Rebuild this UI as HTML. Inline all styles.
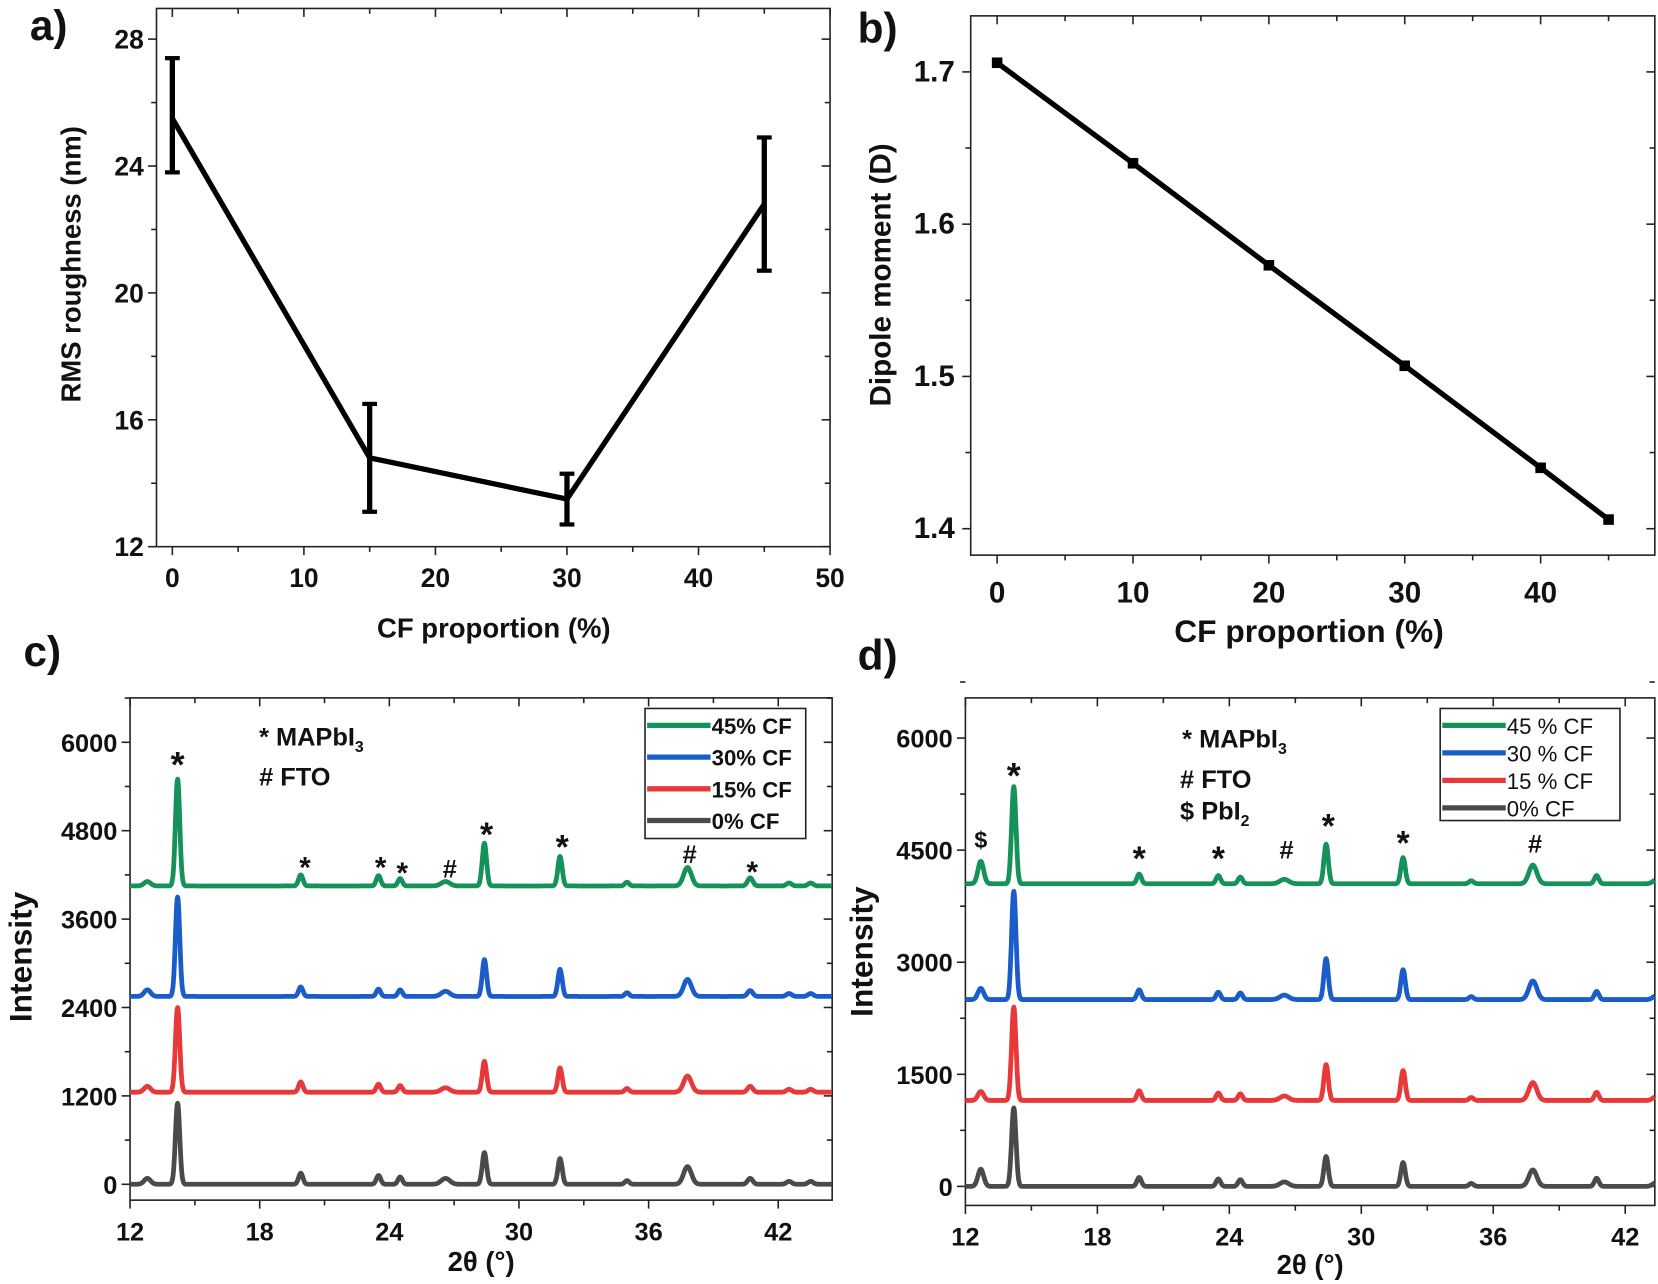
<!DOCTYPE html>
<html><head><meta charset="utf-8">
<style>
html,body{margin:0;padding:0;background:#fff;}
svg{display:block;font-family:"Liberation Sans",Arial,sans-serif;font-weight:bold;}
</style></head>
<body>
<svg id="fig" width="1658" height="1284" viewBox="0 0 1568 1214.3" xmlns="http://www.w3.org/2000/svg"></svg>
<script>
// ---- Panel a data ----
const aX = [0, 15, 30, 45];
const aY = [25.5, 14.8, 13.5, 22.8];
const aErrLo = [23.8, 13.1, 12.7, 20.7];
const aErrHi = [27.4, 16.5, 14.3, 24.9];
const aXTicks = [0, 10, 20, 30, 40, 50];
const aYTicks = [12, 16, 20, 24, 28];
// ---- Panel b data ----
const bX = [0, 10, 20, 30, 40, 45];
const bY = [1.706, 1.640, 1.573, 1.507, 1.440, 1.406];
const bXTicks = [0, 10, 20, 30, 40];
const bYTicks = [1.4, 1.5, 1.6, 1.7];
// ---- Panel c/d XRD data (peak positions, heights per series, baselines) ----
const xrdXTicks = [12, 18, 24, 30, 36, 42];
const cYTicks = [0, 1200, 2400, 3600, 4800, 6000];
const dYTicks = [0, 1500, 3000, 4500, 6000];
const seriesNames = ["0% CF", "15% CF", "30% CF", "45% CF"];
const seriesNamesD = ["0% CF", "15 % CF", "30 % CF", "45 % CF"];
const seriesColors = ["#4a4a4a", "#e8393a", "#1a5cc8", "#15915a"];
const cPeakPos = [12.8, 14.2, 19.9, 23.5, 24.5, 26.6, 28.4, 31.9, 35.0, 37.8, 40.7, 42.5, 43.5];
const cPeakW = [0.15, 0.1, 0.1, 0.1, 0.1, 0.2, 0.1, 0.1, 0.1, 0.18, 0.12, 0.12, 0.12];
const cBase = [0, 1250, 2550, 4050];
const cHeights = [
  [80, 1100, 150, 120, 100, 80, 430, 350, 50, 240, 80, 40, 40],
  [80, 1150, 140, 110, 90, 60, 420, 330, 50, 220, 80, 40, 40],
  [90, 1350, 130, 100, 90, 70, 500, 370, 50, 230, 80, 40, 40],
  [60, 1450, 150, 140, 100, 60, 580, 400, 50, 250, 110, 40, 40]
];
const dPeakPos = [12.7, 14.2, 19.9, 23.5, 24.5, 26.5, 28.4, 31.9, 35.0, 37.8, 40.7, 43.4];
const dPeakW = [0.13, 0.1, 0.1, 0.1, 0.1, 0.2, 0.1, 0.1, 0.1, 0.18, 0.1, 0.15];
const dBase = [0, 1150, 2500, 4050];
const dHeights = [
  [230, 1050, 120, 100, 90, 60, 400, 320, 40, 220, 110, 50],
  [120, 1250, 130, 100, 90, 60, 480, 400, 40, 240, 110, 50],
  [150, 1450, 130, 100, 90, 60, 550, 400, 40, 250, 110, 50],
  [300, 1300, 130, 110, 90, 60, 530, 350, 40, 250, 110, 50]
];

const NS = "http://www.w3.org/2000/svg";
const svg = document.getElementById("fig");
function el(tag, attrs, parent, text) {
  const e = document.createElementNS(NS, tag);
  for (const k in attrs) e.setAttribute(k, attrs[k]);
  if (text !== undefined) e.textContent = text;
  (parent || svg).appendChild(e);
  return e;
}
function lin(d0, d1, p0, p1) { return v => p0 + (v - d0) * (p1 - p0) / (d1 - d0); }

function frame(g, L, T, R, B, name) {
  const r = el("rect", {x: L, y: T, width: R - L, height: B - T, fill: "none", stroke: "#222", "stroke-width": 1.5}, g);
  
  
}
function xTicks(g, sx, ticks, minorStep, xmin, xmax, T, B, fs, dy, fmt) {
  for (let v = xmin; v <= xmax + 1e-9; v += minorStep) {
    const x = sx(v), major = ticks.some(t => Math.abs(t - v) < 1e-6);
    const len = major ? 8 : 5;
    el("line", {x1: x, x2: x, y1: B, y2: B + len, stroke: "#222", "stroke-width": 1.5}, g);
    el("line", {x1: x, x2: x, y1: T, y2: T + len, stroke: "#222", "stroke-width": 1.5}, g);
  }
  ticks.forEach(v => {
    const t = el("text", {x: sx(v), y: B + dy, "font-size": fs, "text-anchor": "middle", fill: "#111"}, g, fmt ? fmt(v) : v);
    
    
  });
}
function yTicks(g, sy, ticks, minorStep, ymin, ymax, L, R, fs, dx, fmt) {
  for (let v = ymin; v <= ymax + 1e-9; v += minorStep) {
    const y = sy(v), major = ticks.some(t => Math.abs(t - v) < 1e-6);
    const len = major ? 8 : 5;
    el("line", {x1: L - len, x2: L, y1: y, y2: y, stroke: "#222", "stroke-width": 1.5}, g);
    el("line", {x1: R - len, x2: R, y1: y, y2: y, stroke: "#222", "stroke-width": 1.5}, g);
  }
  ticks.forEach(v => {
    const t = el("text", {x: L - dx, y: sy(v) + 9, "font-size": fs, "text-anchor": "end", fill: "#111"}, g, fmt ? fmt(v) : v);
    
    
  });
}
function label(g, txt, x, y, fs, name, rot, font) {
  const a = {x: x, y: y, "font-size": fs, "text-anchor": "middle", fill: "#111"};
  if (rot) a.transform = `rotate(-90 ${x} ${y})`;
  if (font) a["font-family"] = font;
  const t = el("text", a, g, txt);
  
  
  return t;
}

// ===== Panel a =====
{
  const g = el("g", {});
  
  
  const L = 148, R = 785, T = 8, B = 517;
  const sx = lin(0, 50, 163, 785), sy = lin(12, 28, 517, 37);
  frame(g, L, T, R, B, 'panel-a-frame');
  xTicks(g, sx, aXTicks, 5, 0, 50, T, B, 25, 38);
  yTicks(g, sy, aYTicks, 2, 12, 28, L, R, 25, 12);
  const pts = aX.map((x, i) => sx(x) + "," + sy(aY[i])).join(" ");
  const pl = el("polyline", {points: pts, fill: "none", stroke: "#000", "stroke-width": 5, "stroke-linejoin": "round"}, g);
  
  
  aX.forEach((x, i) => {
    const eg = el("g", {}, g);
    
    
    const X = sx(x);
    el("line", {x1: X, x2: X, y1: sy(aErrLo[i]), y2: sy(aErrHi[i]), stroke: "#000", "stroke-width": 5}, eg);
    el("line", {x1: X - 7, x2: X + 7, y1: sy(aErrLo[i]), y2: sy(aErrLo[i]), stroke: "#000", "stroke-width": 4}, eg);
    el("line", {x1: X - 7, x2: X + 7, y1: sy(aErrHi[i]), y2: sy(aErrHi[i]), stroke: "#000", "stroke-width": 4}, eg);
  });
  label(g, "a)", 46, 38, 40, 'panel-a-label', false, '"Liberation Sans Narrow","Liberation Sans",sans-serif');
  label(g, "RMS roughness (nm)", 76, 250, 26, 'y-axis-title-a', true);
  label(g, "CF proportion (%)", 467, 603, 26, 'x-axis-title-a');
}

// ===== Panel b =====
{
  const g = el("g", {});
  
  
  const L = 918, R = 1565, T = 15, B = 525;
  const sx = lin(0, 40, 943, 1457), sy = lin(1.4, 1.7, 500, 68);
  frame(g, L, T, R, B, 'panel-b-frame');
  xTicks(g, sx, bXTicks, 5, -1.9 + 1.9, 45, T, B, 28, 45);
  yTicks(g, sy, bYTicks, 0.05, 1.4, 1.7, L, R, 28, 15, v => v.toFixed(1));
  const pts = bX.map((x, i) => sx(x) + "," + sy(bY[i])).join(" ");
  const pl = el("polyline", {points: pts, fill: "none", stroke: "#000", "stroke-width": 5}, g);
  
  
  bX.forEach((x, i) => {
    const m = el("rect", {x: sx(x) - 5, y: sy(bY[i]) - 5, width: 10, height: 10, fill: "#000"}, g);
    
    
  });
  label(g, "b)", 830, 40, 40, 'panel-b-label', false, '"Liberation Sans Narrow","Liberation Sans",sans-serif');
  label(g, "Dipole moment (D)", 842, 260, 28, 'y-axis-title-b', true);
  label(g, "CF proportion (%)", 1238, 607, 30, 'x-axis-title-b');
}

// ===== XRD panels =====
function xrd(opts) {
  const g = el("g", {});
  
  
  const {L, R, T, B} = opts;
  const sx = lin(12, 42, L, opts.x42), sy = lin(0, 6000, opts.y0, opts.y6000);
  const xmax = 12 + (R - L) / ((opts.x42 - L) / 30);
  const ymin = 6000 * (B - opts.y0) / (opts.y6000 - opts.y0);
  frame(g, L, T, R, B, opts.name + '-frame');
  xTicks(g, sx, xrdXTicks, 3, 12, xmax, T, B, 24, 38);
  yTicks(g, sy, opts.yTicks, opts.yMinor, 0, 6000 + opts.yMinor, L, R, 24, 12);
  // series
  for (let s = 0; s < 4; s++) {
    let d = "";
    for (let x = 12; x <= xmax; x += 0.02) {
      let y = opts.base[s];
      for (let p = 0; p < opts.pos.length; p++) {
        const z = (x - opts.pos[p]) / opts.w[p];
        y += opts.h[s][p] * Math.exp(-0.5 * z * z);
      }
      d += (d ? "L" : "M") + sx(x).toFixed(1) + "," + sy(y).toFixed(1);
    }
    const p = el("path", {d: d, fill: "none", stroke: seriesColors[s], "stroke-width": 4.5, "stroke-linejoin": "round"}, g);
    
    
  }
  // legend
  const lg = el("g", {}, g);
  
  
  const lb = opts.legend;
  el("rect", {x: lb.x, y: lb.y, width: lb.w, height: lb.h, fill: "#fff", stroke: "#222", "stroke-width": 1.5}, lg);
  for (let i = 0; i < 4; i++) {
    const s = 3 - i;
    const yy = lb.y + 16 + i * lb.step;
    const e = el("g", {}, lg);
    
    
    el("line", {x1: lb.x + 2, x2: lb.x + 62, y1: yy, y2: yy, stroke: seriesColors[s], "stroke-width": 5}, e);
    el("text", {x: lb.x + 63, y: yy + 8, "font-size": 21, "font-weight": lb.weight, fill: "#111"}, e, opts.names[s]);
  }
  // annotations
  opts.marks.forEach(m => {
    const t = el("text", {x: sx(m[0]), y: m[1], "font-size": m[3] || 28, "text-anchor": "middle", fill: "#111"}, g, m[2]);
    
    
  });
  opts.notes.forEach(n => {
    const t = el("text", {x: n[0], y: n[1], "font-size": 24, fill: "#111"}, g);
    
    
    el("tspan", {}, t, n[2]);
    if (n[3]) el("tspan", {"font-size": 15, dy: 6}, t, n[3]);
  });
  label(g, opts.label, opts.labelX, opts.labelY, 40, opts.name + '-label', false, '"Liberation Sans Narrow","Liberation Sans",sans-serif');
  label(g, "Intensity", opts.ytX, opts.ytY, 30, 'y-axis-title', true);
  label(g, "2θ (°)", (L + R) / 2, opts.xtY, 26, 'x-axis-title');
}

xrd({name: 'panel-c-xrd', L: 123, R: 787, T: 660, B: 1135, x42: 736, y0: 1120, y6000: 702,
  yTicks: cYTicks, yMinor: 600, base: cBase, h: cHeights, pos: cPeakPos, w: cPeakW, names: seriesNames,
  legend: {x: 610, y: 670, w: 152, h: 123, step: 30, weight: "bold"},
  marks: [[14.2, 735, "*", 34], [20.1, 830, "*"], [23.6, 830, "*"], [24.6, 835, "*"], [26.8, 830, "#", 24], [28.5, 800, "*", 32], [32.0, 812, "*", 32], [37.9, 816, "#", 24], [40.8, 834, "*"]],
  notes: [[245, 705, "* MAPbI", "3"], [245, 743, "#  FTO"]],
  label: "c)", labelX: 40, labelY: 630, ytX: 30, ytY: 905, xtY: 1202});

xrd({name: 'panel-d-xrd', L: 913, R: 1565, T: 660, B: 1140, x42: 1537, y0: 1122, y6000: 698,
  yTicks: dYTicks, yMinor: 750, base: dBase, h: dHeights, pos: dPeakPos, w: dPeakW, names: seriesNamesD,
  legend: {x: 1362, y: 670, w: 170, h: 106, step: 26, weight: "normal"},
  marks: [[12.7, 802, "$", 22], [14.2, 745, "*", 34], [19.9, 823, "*", 32], [23.5, 823, "*", 32], [26.6, 812, "#", 24], [28.5, 792, "*", 32], [31.9, 808, "*", 32], [37.9, 806, "#", 24]],
  notes: [[1118, 707, "*  MAPbI", "3"], [1116, 745, "#  FTO"], [1116, 775, "$  PbI", "2"]],
  label: "d)", labelX: 830, labelY: 633, ytX: 825, ytY: 900, xtY: 1205});
</script>
</body></html>
